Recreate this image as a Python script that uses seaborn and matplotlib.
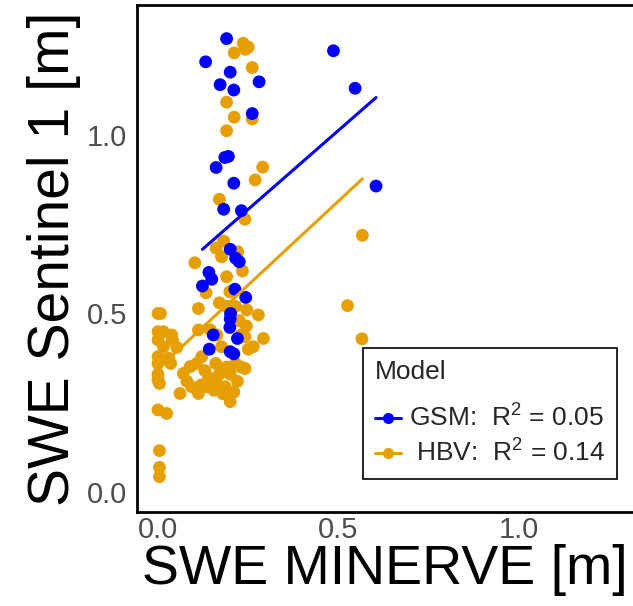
import numpy as np
import pandas as pd
import matplotlib
matplotlib.use("Agg")
import matplotlib.pyplot as plt
from matplotlib.lines import Line2D
import seaborn as sns

# ---------------- data ----------------
gsm_x = [0.19, 0.132, 0.20, 0.172, 0.21, 0.28, 0.486, 0.546, 0.261, 0.185,
         0.195, 0.161, 0.21, 0.604, 0.182, 0.231, 0.20, 0.215, 0.225, 0.141,
         0.149, 0.123, 0.213, 0.243, 0.201, 0.20, 0.199, 0.153, 0.22, 0.142,
         0.20, 0.21]
gsm_y = [1.27, 1.205, 1.176, 1.141, 1.126, 1.149, 1.236, 1.131, 1.06, 0.937,
         0.94, 0.909, 0.865, 0.857, 0.792, 0.788, 0.68, 0.655, 0.645, 0.615,
         0.596, 0.577, 0.568, 0.545, 0.50, 0.485, 0.461, 0.44, 0.43, 0.40,
         0.393, 0.387]

hbv_x = [0.236, 0.25, 0.211, 0.242, 0.261, 0.19, 0.211, 0.261, 0.19, 0.29,
         0.269, 0.17, 0.241, 0.566, 0.525, 0.565, 0.182, 0.161, 0.221, 0.176,
         0.102, 0.234, 0.19, 0.133, 0.199, 0.17, 0.112, 0.007, 0.0, 0.246,
         0.278, 0.0, 0.015, 0.038, 0.0, 0.04, 0.015, 0.052, 0.0, 0.03,
         0.0, 0.035, 0.0, 0.0, 0.112, 0.145, 0.163, 0.241, 0.292, 0.264,
         0.25, 0.176, 0.07, 0.089, 0.107, 0.121, 0.241, 0.2, 0.0, 0.024,
         0.061, 0.093, 0.112, 0.135, 0.163, 0.186, 0.004, 0.14, 0.17, 0.2,
         0.22, 0.21, 0.18, 0.155, 0.12, 0.08, 0.23, 0.19, 0.215, 0.16,
         0.13, 0.004, 0.004, 0.004, 0.225, 0.245, 0.23, 0.215, 0.19]
hbv_y = [1.257, 1.246, 1.23, 1.24, 1.189, 1.092, 1.05, 1.045, 1.012, 0.91,
         0.874, 0.82, 0.764, 0.719, 0.522, 0.429, 0.703, 0.683, 0.673, 0.659,
         0.642, 0.619, 0.603, 0.558, 0.561, 0.53, 0.514, 0.50, 0.50, 0.51,
         0.496, 0.449, 0.449, 0.44, 0.426, 0.426, 0.407, 0.405, 0.379, 0.375,
         0.36, 0.36, 0.33, 0.314, 0.454, 0.454, 0.44, 0.435, 0.43, 0.407,
         0.40, 0.407, 0.332, 0.351, 0.36, 0.379, 0.346, 0.253, 0.23, 0.22,
         0.276, 0.295, 0.276, 0.295, 0.304, 0.295, 0.304, 0.32, 0.33, 0.33,
         0.31, 0.28, 0.275, 0.285, 0.30, 0.31, 0.35, 0.35, 0.36, 0.36,
         0.34, 0.116, 0.069, 0.043, 0.48, 0.465, 0.44, 0.52, 0.52]

models = ["GSM", "HBV"]
r2_values = ["0.05", "0.14"]
fit_intercept = [0.571, 0.345]
fit_slope = [0.884, 0.94]
colors = ["#0000FF", "#E69F00"]

x_ticks = [0.0, 0.5, 1.0]
y_ticks = [0.0, 0.5, 1.0]

# ---------------- build frames ----------------
pts = pd.concat([
    pd.DataFrame({"x": hbv_x, "y": hbv_y, "Model": "HBV"}),
    pd.DataFrame({"x": gsm_x, "y": gsm_y, "Model": "GSM"}),
], ignore_index=True)

fit_rows = []
for m, a, b in zip(models, fit_intercept, fit_slope):
    sub = pts[pts.Model == m]
    for xv in (sub.x.min(), sub.x.max()):
        fit_rows.append({"x": xv, "y": a + b * xv, "Model": m})
fits = pd.DataFrame(fit_rows)

palette = dict(zip(models, colors))

# ---------------- figure ----------------
sns.set_theme(style="white")
plt.rcParams["font.family"] = ["Liberation Sans", "DejaVu Sans"]
plt.rcParams["mathtext.fontset"] = "custom"
plt.rcParams["mathtext.rm"] = "Liberation Sans"

W, H = 633, 606
fig = plt.figure(figsize=(W / 100, H / 100), dpi=100)
L, R, T, B = 137, 633, 5, 512
ax = fig.add_axes([L / W, 1 - B / H, (R - L) / W, (B - T) / H])

# points: HBV first then GSM
sns.scatterplot(data=pts[pts.Model == "HBV"], x="x", y="y", color=colors[1],
                s=85, edgecolor="none", ax=ax, legend=False, zorder=2)
sns.scatterplot(data=pts[pts.Model == "GSM"], x="x", y="y", color=colors[0],
                s=85, edgecolor="none", ax=ax, legend=False, zorder=3)
sns.lineplot(data=fits, x="x", y="y", hue="Model", palette=palette,
             linewidth=2.2, ax=ax, legend=False, zorder=4, estimator=None)

ax.set_xlim(-21 / 361, (633 - 158) / 361)
ax.set_ylim(-20 / 357, 487 / 357)
ax.set_xticks(x_ticks)
ax.set_yticks(y_ticks)
ax.set_xticklabels([f"{t:.1f}" for t in x_ticks])
ax.set_yticklabels([f"{t:.1f}" for t in y_ticks])
ax.tick_params(axis="both", length=0, labelsize=21, labelcolor="#4D4D4D")
ax.tick_params(axis="y", pad=7)
ax.tick_params(axis="x", pad=3)

for side in ["left", "top", "bottom"]:
    ax.spines[side].set_color("black")
    ax.spines[side].set_linewidth(2.0)
ax.spines["right"].set_visible(False)

ax.set_xlabel("SWE MINERVE [m]", fontsize=40, color="black", labelpad=0)
ax.set_ylabel("SWE Sentinel 1 [m]", fontsize=41, color="black", labelpad=4)

handles = [Line2D([0], [0], color=c, lw=2.2, marker="o", markersize=8,
                  markeredgewidth=0) for c in colors]
labels = ["GSM:  $\\mathregular{R^2}$ = " + r2_values[0],
          " HBV:  $\\mathregular{R^2}$ = " + r2_values[1]]
leg = ax.legend(handles, labels, title="Model", loc="upper right",
                bbox_to_anchor=(0.968, 0.3235), borderaxespad=0,
                fontsize=19, title_fontsize=19, frameon=True, fancybox=False,
                handlelength=1.0, handletextpad=0.3, labelspacing=0.3,
                borderpad=0.45)
leg._legend_box.align = "left"
leg._legend_box.sep = 15
frame = leg.get_frame()
frame.set_edgecolor("black")
frame.set_linewidth(1.2)
frame.set_facecolor("white")
frame.set_alpha(1)

fig.savefig("out.png", dpi=100)
